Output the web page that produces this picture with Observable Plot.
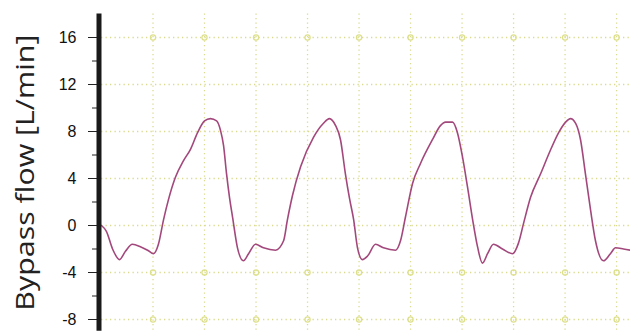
<!DOCTYPE html>
<html>
<head>
<meta charset="utf-8">
<script src="https://cdn.jsdelivr.net/npm/d3@7"></script>
<script src="https://cdn.jsdelivr.net/npm/@observablehq/plot@0.6"></script>
<style>
  html, body { margin: 0; padding: 0; background: #fff; }
  #chart { width: 630px; height: 333px; }
</style>
</head>
<body>
<div id="chart"></div>
<script>
// time in ms (grid every 200 ms), flow in L/min
const timeMs = [0,19,43,70,93,120,151,179,202,221,241,260,287,318,346,373,400,423,447,462,474,485,497,509,528,551,571,598,629,676,707,722,742,773,823,862,885,909,928,947,963,979,994,1013,1033,1064,1095,1142,1161,1180,1208,1239,1285,1316,1336,1363,1382,1402,1421,1441,1460,1479,1499,1522,1557,1596,1619,1639,1666,1705,1743,1775,1802,1821,1841,1860,1879,1899,1918,1949,1976,1996,2027,2054];
const flow = [0,-0.5,-2.0,-2.9,-2.2,-1.6,-1.8,-2.1,-2.4,-1.6,0.5,2.2,4.1,5.5,6.5,7.9,8.9,9.1,8.9,8.1,6.8,4.5,2.4,0.7,-1.9,-3.0,-2.4,-1.6,-1.9,-2.1,-1.3,0.5,2.6,5.0,7.5,8.7,9.1,8.5,7.3,4.4,2.3,0.5,-1.9,-2.9,-2.6,-1.6,-1.9,-2.1,-1.3,0.7,3.6,5.3,7.3,8.5,8.8,8.8,7.9,5.8,3.3,0.5,-1.8,-3.2,-2.4,-1.6,-2.0,-2.4,-1.5,0.2,2.4,4.4,6.4,7.9,8.8,9.1,8.7,7.3,4.4,1.3,-1.3,-3.0,-2.4,-1.9,-2.0,-2.1];
const yTicks = [-8,-4,0,4,8,12,16];
const yMinorTicks = [-6,-2,2,6,10,14];
const xGrid = [200,400,600,800,1000,1200,1400,1600,1800,2000];
const markerRows = [16,-4,-8];
const yLabel = "Bypass flow [L/min]";

const series = timeMs.map((t, i) => ({t, v: flow[i]}));
const markers = markerRows.flatMap(r => xGrid.map(x => ({x, y: r})));
const gridColor = "#d9dc8e";

const chart = Plot.plot({
  width: 630,
  height: 333,
  marginLeft: 101,
  marginRight: 0,
  marginTop: 13.5,
  marginBottom: 2.25,
  style: {background: "#fff", fontFamily: "Liberation Sans, Arial, sans-serif"},
  x: {domain: [0, 2054], axis: null},
  y: {domain: [-9, 18], axis: null},
  marks: [
    Plot.ruleY(yTicks, {stroke: gridColor, strokeWidth: 1.3, strokeDasharray: "1.3,3.2"}),
    Plot.ruleX(xGrid, {stroke: gridColor, strokeWidth: 1.3, strokeDasharray: "1.3,3.2"}),
    Plot.dot(markers, {x: "x", y: "y", r: 2.6, stroke: "#dde08a", strokeWidth: 1.2, fill: "none"}),
    Plot.line(series, {x: "t", y: "v", stroke: "#a3487c", strokeWidth: 1.6, curve: "monotone-x"}),
    Plot.axisY({ticks: yMinorTicks, tickSize: 9, tickFormat: () => "", stroke: "#222"}),
    Plot.axisY({ticks: yTicks, tickSize: 13, tickPadding: 12, fontSize: 16, fill: "#111", stroke: "#222", tickFormat: d => String(d)}),
    Plot.ruleX([0], {stroke: "#1a1a1a", strokeWidth: 5, dx: -2.5}),
    Plot.text([yLabel], {className: "ylab", frameAnchor: "left", dx: -76, rotate: -90, textAnchor: "middle", lineAnchor: "middle", text: d => d, fontSize: 25, fill: "#222", fontFamily: "Open Sans, sans-serif"})
  ]
});
d3.select(chart).selectAll(".ylab text").attr("textLength", 276).attr("lengthAdjust", "spacingAndGlyphs");
document.getElementById("chart").appendChild(chart);
</script>
</body>
</html>
